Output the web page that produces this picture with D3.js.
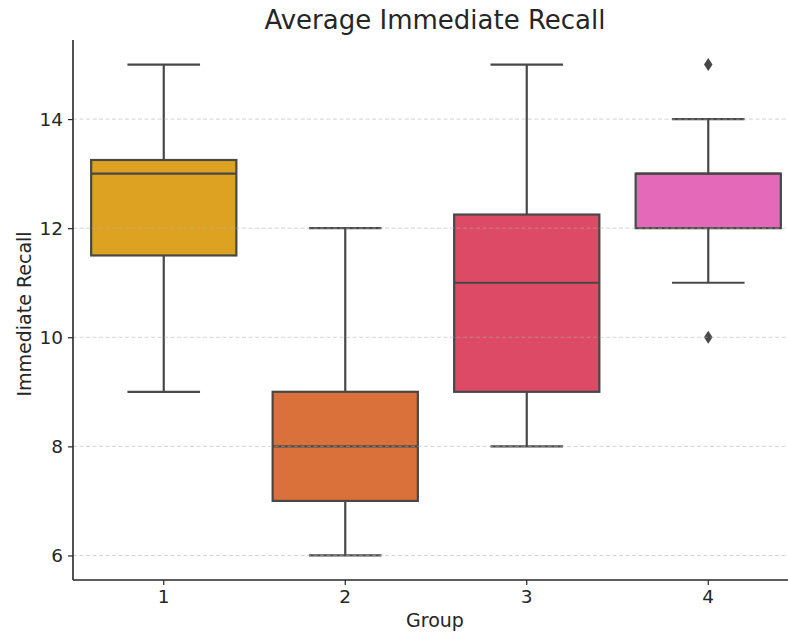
<!DOCTYPE html>
<html>
<head>
<meta charset="utf-8">
<style>
  body { margin: 0; background: #fff; }
  svg { font-family: "DejaVu Sans", sans-serif; }
</style>
</head>
<body>
<script src="https://d3js.org/d3.v7.min.js"></script>
<script>
// box statistics
var groups = ['1', '2', '3', '4'];
var whiskerLow = [9, 6, 8, 11];
var q1 = [11.5, 7, 9, 12];
var median = [13, 8, 11, 13];
var q3 = [13.25, 9, 12.25, 13];
var whiskerHigh = [15, 12, 15, 14];
var outliers = [[], [], [], [15, 10]];
var colors = ['#dda221', '#da703a', '#dc4a66', '#e46ab9'];
var yTicks = [6, 8, 10, 12, 14];

var width = 788, height = 632;
var margin = { top: 40, left: 73, bottom: 52 };
var plotRight = 799; // axes run past the image edge

var svg = d3.select('body').append('svg')
    .attr('width', width)
    .attr('height', height);

var x = d3.scaleBand().domain(groups).range([margin.left, plotRight]);
var y = d3.scaleLinear().domain([5.55, 15.45]).range([height - margin.bottom, margin.top]);

var boxW = x.bandwidth() * 0.8;
var capW = x.bandwidth() * 0.4;
var edge = '#484848';

var data = groups.map(function (g, i) {
    return { g: g, lo: whiskerLow[i], q1: q1[i], med: median[i], q3: q3[i], hi: whiskerHigh[i], out: outliers[i], color: colors[i] };
});

var boxes = svg.append('g').selectAll('g').data(data).enter().append('g')
    .attr('transform', function (d) { return 'translate(' + (x(d.g) + x.bandwidth() / 2) + ',0)'; });

// whiskers
boxes.append('line').attr('x1', 0).attr('x2', 0)
    .attr('y1', function (d) { return y(d.lo); }).attr('y2', function (d) { return y(d.q1); })
    .attr('stroke', edge).attr('stroke-width', 2.2);
boxes.append('line').attr('x1', 0).attr('x2', 0)
    .attr('y1', function (d) { return y(d.q3); }).attr('y2', function (d) { return y(d.hi); })
    .attr('stroke', edge).attr('stroke-width', 2.2);
boxes.append('line').attr('x1', -capW / 2).attr('x2', capW / 2)
    .attr('y1', function (d) { return y(d.lo); }).attr('y2', function (d) { return y(d.lo); })
    .attr('stroke', edge).attr('stroke-width', 2.2);
boxes.append('line').attr('x1', -capW / 2).attr('x2', capW / 2)
    .attr('y1', function (d) { return y(d.hi); }).attr('y2', function (d) { return y(d.hi); })
    .attr('stroke', edge).attr('stroke-width', 2.2);

// box
boxes.append('rect')
    .attr('x', -boxW / 2).attr('width', boxW)
    .attr('y', function (d) { return y(d.q3); })
    .attr('height', function (d) { return y(d.q1) - y(d.q3); })
    .attr('fill', function (d) { return d.color; })
    .attr('stroke', edge).attr('stroke-width', 2.2);

// median
boxes.append('line').attr('x1', -boxW / 2).attr('x2', boxW / 2)
    .attr('y1', function (d) { return y(d.med); }).attr('y2', function (d) { return y(d.med); })
    .attr('stroke', edge).attr('stroke-width', 2.2);

// outliers (diamonds)
boxes.selectAll('path.out').data(function (d) { return d.out; }).enter().append('path')
    .attr('class', 'out')
    .attr('d', d3.symbol().type(d3.symbolDiamond2).size(110))
    .attr('transform', function (v) { return 'translate(0,' + y(v) + ') scale(0.65,1)'; })
    .attr('fill', edge);

// grid, drawn over the boxes
svg.append('g').selectAll('line').data(yTicks).enter().append('line')
    .attr('x1', margin.left).attr('x2', plotRight)
    .attr('y1', function (d) { return y(d); }).attr('y2', function (d) { return y(d); })
    .attr('stroke', '#b0b0b0').attr('stroke-opacity', 0.55)
    .attr('stroke-width', 1).attr('stroke-dasharray', '4,2.5');

// axes
var yAxis = svg.append('g')
    .attr('transform', 'translate(' + margin.left + ',0)')
    .call(d3.axisLeft(y).tickValues(yTicks).tickSize(5).tickPadding(5));
var xAxis = svg.append('g')
    .attr('transform', 'translate(0,' + (height - margin.bottom) + ')')
    .call(d3.axisBottom(x).tickSize(5).tickPadding(5));

[yAxis, xAxis].forEach(function (a) {
    a.select('.domain').attr('stroke', '#262626').attr('stroke-width', 1.6);
    a.selectAll('.tick line').attr('stroke', '#262626').attr('stroke-width', 1.2);
    a.selectAll('.tick text').attr('fill', '#262626').style('font-size', '18.5px').style('font-family', '"DejaVu Sans", sans-serif');
});
yAxis.select('.domain').attr('d', 'M0,' + margin.top + 'V' + (height - margin.bottom));
xAxis.select('.domain').attr('d', 'M' + margin.left + ',0H' + plotRight);

// title and labels
svg.append('text')
    .attr('x', 435).attr('y', 29)
    .attr('text-anchor', 'middle')
    .attr('fill', '#262626')
    .style('font-size', '26px')
    .text('Average Immediate Recall');

svg.append('text')
    .attr('x', 435).attr('y', 627)
    .attr('text-anchor', 'middle')
    .attr('fill', '#262626')
    .style('font-size', '19px')
    .text('Group');

svg.append('text')
    .attr('transform', 'translate(31,' + ((margin.top + height - margin.bottom) / 2 + 4) + ') rotate(-90)')
    .attr('text-anchor', 'middle')
    .attr('fill', '#262626')
    .style('font-size', '19px')
    .text('Immediate Recall');
</script>
</body>
</html>
